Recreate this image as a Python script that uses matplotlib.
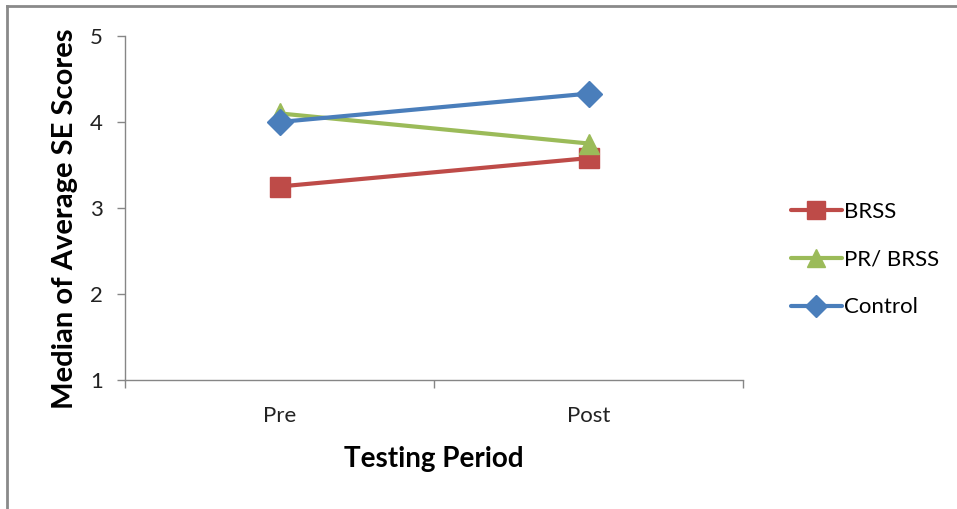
import matplotlib.pyplot as plt
from matplotlib.lines import Line2D

periods = ["Pre", "Post"]
brss = [3.25, 3.58]
pr_brss = [4.1, 3.75]
control = [4.0, 4.33]

series = [
    ("BRSS", brss, "#BE4B48", "s", 14),
    ("PR/ BRSS", pr_brss, "#9BBB59", "^", 15),
    ("Control", control, "#4A7EBB", "D", 13),
]


def main():
    plt.rcParams["font.family"] = ["Lato", "DejaVu Sans"]
    fig = plt.figure(figsize=(9.57, 5.09), dpi=100)
    ax = fig.add_axes([125 / 957, 1 - 380 / 509, 618 / 957, 344 / 509])

    x = range(len(periods))
    for name, vals, color, marker, ms in series:
        ax.plot(x, vals, color=color, lw=3, marker=marker, ms=ms,
                label=name, solid_capstyle="round")

    ax.set_xlim(-0.5, len(periods) - 0.5)
    ax.set_ylim(1, 5)
    ax.set_yticks([1, 2, 3, 4, 5])
    ax.set_xticks(list(x))
    ax.set_xticklabels(periods)
    ax.set_xticks([-0.5, 0.5, 1.5], minor=True)
    ax.tick_params(axis="x", which="major", length=0, pad=19,
                   labelsize=16, colors="#222222")
    ax.tick_params(axis="x", which="minor", length=6, width=1, color="#868686",
                   direction="out")
    ax.tick_params(axis="y", length=6, width=1, color="#868686",
                   labelsize=16, labelcolor="#222222", pad=10)

    for spine in ("top", "right"):
        ax.spines[spine].set_visible(False)
    for spine in ("left", "bottom"):
        ax.spines[spine].set_color("#868686")
        ax.spines[spine].set_linewidth(1)

    ax.set_xlabel("Testing Period", fontsize=20, fontweight="bold", labelpad=14)
    ax.set_ylabel("Median of Average SE Scores", fontsize=21, fontweight="bold")
    ax.yaxis.set_label_coords(-0.076, 0.47)

    ax.legend(loc="center left", bbox_to_anchor=(1.045, 0.35), frameon=False,
              fontsize=16, handlelength=2.3, handletextpad=0.1,
              labelspacing=1.25, markerscale=0.9)

    # outer frame: only top and left edges are drawn
    fig.add_artist(Line2D([7 / 957, 7 / 957], [0, 1 - 6 / 509],
                          transform=fig.transFigure, color="#8A8A8A", lw=2))
    fig.add_artist(Line2D([7 / 957, 1], [1 - 6 / 509, 1 - 6 / 509],
                          transform=fig.transFigure, color="#8A8A8A", lw=2))

    fig.savefig("out.png", dpi=100)


if __name__ == "__main__":
    main()
